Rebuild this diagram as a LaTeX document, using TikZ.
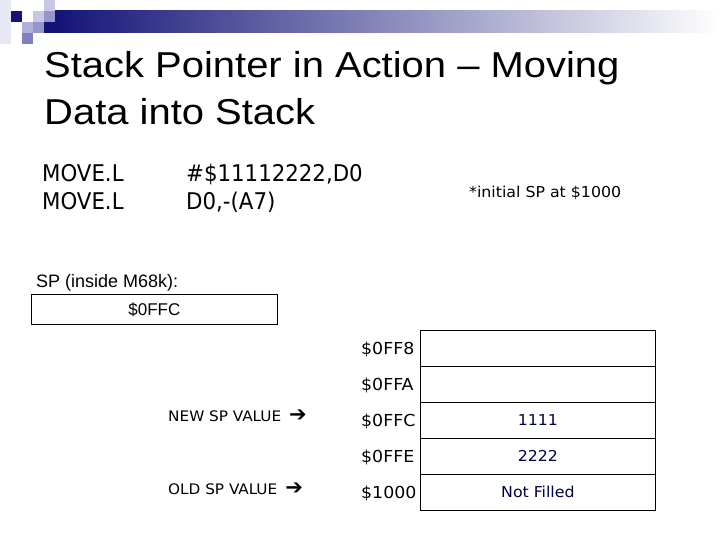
\documentclass[tikz,border=0pt]{standalone}
\usepackage{fontspec}
\setmainfont{Liberation Sans}
\newfontfamily\titlef[FakeStretch=1.11]{Liberation Sans}
\newfontfamily\tahA[FakeStretch=1.03]{DejaVu Sans Condensed}
\newfontfamily\tahB[FakeStretch=1.17]{DejaVu Sans Condensed}
\newfontfamily\dv{DejaVu Sans}
\definecolor{navy}{RGB}{20,20,120}
\definecolor{cellink}{RGB}{0,0,70}
\definecolor{sqA}{RGB}{232,232,244}
\definecolor{sqB}{RGB}{200,200,228}
\definecolor{sqC}{RGB}{150,150,204}
\definecolor{sqD}{RGB}{176,176,216}
\definecolor{sqE}{RGB}{128,128,192}
\begin{document}
\begin{tikzpicture}[x=1pt,y=-1pt,
  txt/.style={inner sep=0pt,anchor=base west},
  code/.style={txt,font=\tahA\fontsize{23}{27}\selectfont},
  cell/.style={draw,line width=0.8pt,minimum width=235pt,minimum height=36pt,inner sep=0pt,anchor=north west,text=cellink,font=\tahB\fontsize{15}{18}\selectfont},
  addr/.style={txt,font=\tahB\fontsize{16.5}{20}\selectfont},
  lbl/.style={txt,font=\tahB\fontsize{14.5}{17}\selectfont}]
\useasboundingbox (0,0) rectangle (720,540);
% decoration
\fill[sqA] (0,0) rectangle (11,44);
\fill[navy] (11,11) rectangle (22,22);
\fill[sqB] (33,11) rectangle (44,22);
\fill[sqB] (44,0) rectangle (55,11);
\fill[sqC] (44,11) rectangle (55,22);
\fill[sqD] (22,22) rectangle (33,33);
\fill[sqC] (33,22) rectangle (44,33);
\fill[sqE] (22,33) rectangle (33,44);
\shade[left color=navy,right color=white] (55,11) rectangle (720,33);
\fill[navy] (44,22) rectangle (55,33);
% title
\node[txt,font=\titlef\fontsize{36}{42}\selectfont] (t1) at (44,78) {Stack Pointer in Action – Moving};
\node[txt,font=\titlef\fontsize{36}{42}\selectfont] (t2) at (44,125) {Data into Stack};
% code
\node[code] (c1) at (42,182) {MOVE.L};
\node[code] (c2) at (42,210) {MOVE.L};
\node[code] (o1) at (186,182) {\#\$11112222,D0};
\node[code] (o2) at (186,210) {D0,-(A7)};
\node[txt,font=\tahB\fontsize{15}{18}\selectfont] (ini) at (469,197) {*initial SP at \$1000};
% SP register
\node[txt,font=\fontsize{18}{21}\selectfont] (spl) at (36,287) {SP (inside M68k):};
\node[draw,line width=0.8pt,minimum width=246pt,minimum height=30pt,inner sep=0pt,anchor=north west,font=\fontsize{17}{20}\selectfont] (sp) at (31,294) {\$0FFC};
% memory table
\node[cell] (m0) at (420,330) {};
\node[cell] (m1) at (420,366) {};
\node[cell] (m2) at (420,402) {\raisebox{-2pt}{1111}};
\node[cell] (m3) at (420,438) {\raisebox{-2pt}{2222}};
\node[cell] (m4) at (420,474) {\raisebox{-2pt}{Not Filled}};
\node[addr] (a0) at (361,354) {\$0FF8};
\node[addr] (a1) at (361,390) {\$0FFA};
\node[addr] (a2) at (361,426) {\$0FFC};
\node[addr] (a3) at (361,462) {\$0FFE};
\node[addr] (a4) at (361,498) {\$1000};
\node[lbl] (nsp) at (168,421) {NEW SP VALUE\hspace{8pt}{\dv\fontsize{21}{22}\selectfont ➔}};
\node[lbl] (osp) at (168,494) {OLD SP VALUE\hspace{8pt}{\dv\fontsize{21}{22}\selectfont ➔}};
\end{tikzpicture}
\end{document}
